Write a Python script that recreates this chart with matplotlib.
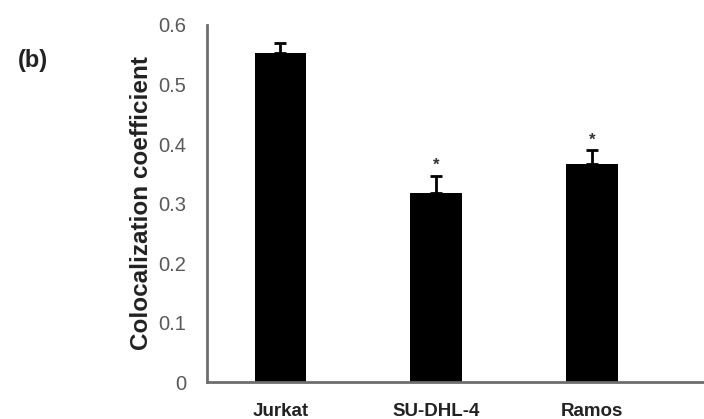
import matplotlib.pyplot as plt
import numpy as np

plt.rcParams['font.family'] = ['Liberation Sans', 'DejaVu Sans']

cells = ['Jurkat', 'SU-DHL-4', 'Ramos']
coef = [0.553, 0.318, 0.367]
err = [0.016, 0.029, 0.023]
signif = ['', '*', '*']
yticks = [0, 0.1, 0.2, 0.3, 0.4, 0.5, 0.6]

fig = plt.figure(figsize=(7.04, 4.19), dpi=100)
ax = fig.add_axes([207 / 704, 1 - 382 / 419, 1 - 207 / 704, (382 - 25) / 419])

x = np.arange(len(cells))
ax.bar(x, coef, width=0.33, color='black', zorder=2)
ax.errorbar(x, coef, yerr=[np.zeros(len(err)), err], fmt='none',
            ecolor='black', elinewidth=2, capsize=4, capthick=2, zorder=3)
for xi, c, e, s in zip(x, coef, err, signif):
    if s:
        ax.text(xi, c + e + 0.004, s, ha='center', va='bottom',
                fontsize=12, fontweight='bold', color='#333333')

ax.set_xlim(-0.47, 2.72)
ax.set_ylim(0, 0.6)
ax.set_yticks(yticks)
ax.set_yticklabels(['0' if t == 0 else f'{t:.1f}' for t in yticks])
ax.set_xticks(x)
ax.set_xticklabels(cells, fontweight='bold', fontsize=13.5, color='#222222')
ax.tick_params(axis='y', length=0, pad=15, labelsize=14.5, labelcolor='#595959')
ax.tick_params(axis='x', length=0, pad=15)

for side in ['top', 'right']:
    ax.spines[side].set_visible(False)
for side in ['left', 'bottom']:
    ax.spines[side].set_color('#6e6e6e')
    ax.spines[side].set_linewidth(2)

ax.set_ylabel('Colocalization coefficient', fontweight='bold', fontsize=17.5,
              color='#222222', labelpad=4)

fig.text(18 / 704, 1 - 61 / 419, '(b)', fontweight='bold', fontsize=17,
         color='#222222', va='center', ha='left')

fig.savefig('out.png', dpi=100)
